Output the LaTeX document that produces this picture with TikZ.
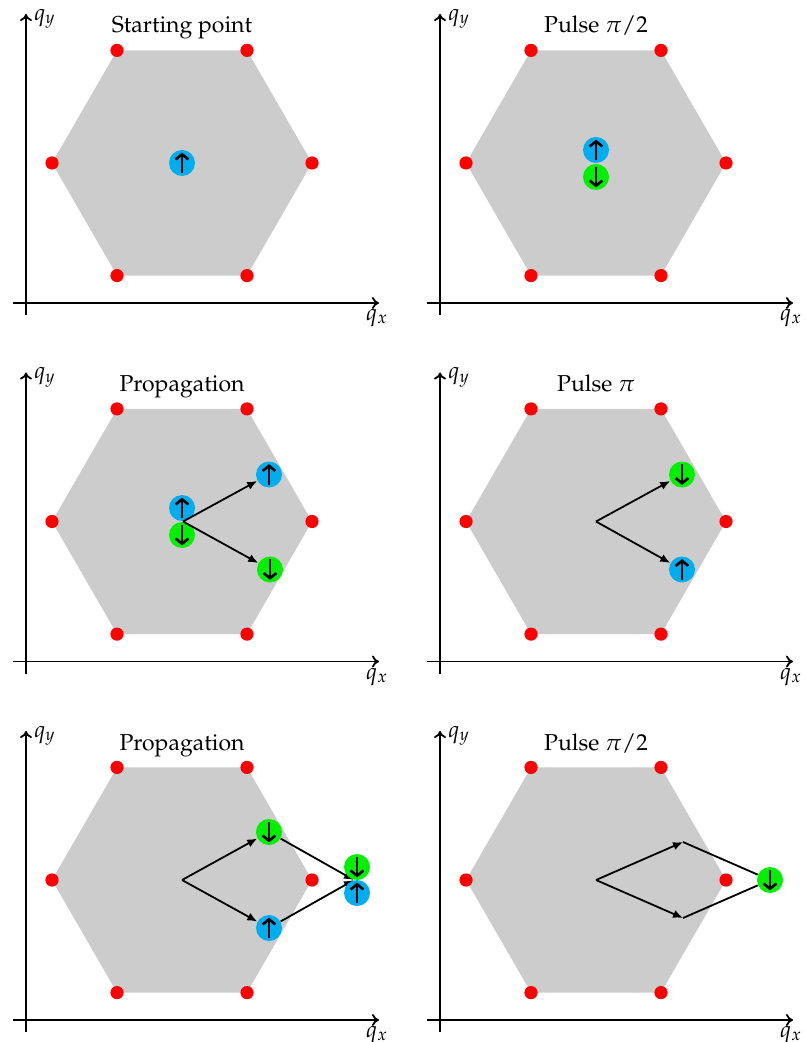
\documentclass[tikz,border=0pt]{standalone}
\usepackage[T1]{fontenc}
\usepackage{mathpazo}
\usetikzlibrary{arrows.meta}
\definecolor{spinblue}{HTML}{00AEEF}
\definecolor{spingreen}{HTML}{00F000}
\definecolor{dotred}{HTML}{FF0000}
\definecolor{hexgray}{HTML}{CCCCCC}
\tikzset{
  axisline/.style={line width=0.9pt, -{To[length=3.5pt,width=6pt]}},
  reddot/.style={circle, fill=dotred, inner sep=0pt, minimum size=6.6pt},
  spinbase/.style={circle, inner sep=0pt, minimum size=13pt},
  spinup/.style={spinbase, fill=spinblue, path picture={\draw[line width=1.3pt,-{Straight Barb[length=2.6pt,width=6.4pt]}] ([yshift=-5.2pt]path picture bounding box.center) -- ([yshift=5.2pt]path picture bounding box.center);}},
  spindown/.style={spinbase, fill=spingreen, path picture={\draw[line width=1.3pt,-{Straight Barb[length=2.6pt,width=6.4pt]}] ([yshift=5.2pt]path picture bounding box.center) -- ([yshift=-5.2pt]path picture bounding box.center);}},
  flow/.style={line width=0.9pt, -{Latex[length=5pt,width=4.2pt]}},
  plainline/.style={line width=0.9pt},
  titletext/.style={font=\fontsize{11.5}{13}\selectfont, anchor=base},
  axlabel/.style={font=\fontsize{11.5}{13}\selectfont, inner sep=0pt}
}
\newcommand\mypanel[3]{%
  \begin{scope}[shift={#3}]
    \fill[hexgray] (52,163) -- (117,50.4) -- (247,50.4) -- (312,163) -- (247,275.6) -- (117,275.6) -- cycle;
    \node[reddot] (#1d1) at (52,163) {};
    \node[reddot] (#1d2) at (117,50.4) {};
    \node[reddot] (#1d3) at (247,50.4) {};
    \node[reddot] (#1d4) at (312,163) {};
    \node[reddot] (#1d5) at (247,275.6) {};
    \node[reddot] (#1d6) at (117,275.6) {};
    \coordinate (#1yb) at (26,315);
    \coordinate (#1yt) at (26,14);
    \coordinate (#1xl) at (13,303);
    \coordinate (#1xr) at (379,303);
    \draw[axisline] (#1yb) -- (#1yt);
    \draw[axisline] (#1xl) -- (#1xr);
    \node[axlabel] (#1qy) at (45,19) {$q_y$};
    \node[axlabel, anchor=north] (#1qx) at (377,309) {$q_x$};
    \node[titletext] (#1t) at (182,33) {#2};
  \end{scope}}
\begin{document}
\begin{tikzpicture}[x=0.5pt,y=-0.5pt]
\useasboundingbox (0,0) rectangle (805,1042);
% row 1
\mypanel{a}{Starting point}{(0,0)}
\node[spinup] (u1) at (182,163) {};
\mypanel{b}{Pulse $\pi/2$}{(414,0)}
\node[spinup] (u2) at (596,150) {};
\node[spindown] (g2) at (596,177) {};
% row 2
\mypanel{c}{Propagation}{(0,358.5)}
\node[spinup] (u3) at (182,508) {};
\node[spindown] (g3) at (182,535) {};
\coordinate (c3) at (183,521.5);
\node[spinup] (u3b) at (269,474.5) {};
\node[spindown] (g3b) at (270,569.5) {};
\draw[flow] (c3) -- (u3b);
\draw[flow] (c3) -- (g3b);
\mypanel{d}{Pulse $\pi$}{(414,358.5)}
\coordinate (c4) at (596,521.5);
\node[spindown] (g4) at (682,474.5) {};
\node[spinup] (u4) at (682,569.5) {};
\draw[flow] (c4) -- (g4);
\draw[flow] (c4) -- (u4);
% row 3
\mypanel{e}{Propagation}{(0,717)}
\coordinate (c5) at (182,880);
\node[spindown] (g5) at (269,832) {};
\node[spinup] (u5) at (269,928) {};
\coordinate (m5) at (354,880);
\draw[flow] (c5) -- (g5);
\draw[flow] (c5) -- (u5);
\draw[flow] (g5) -- (m5);
\draw[flow] (u5) -- (m5);
\node[spindown] (g5b) at (357,867) {};
\node[spinup] (u5b) at (357,893) {};
\mypanel{f}{Pulse $\pi/2$}{(414,717)}
\coordinate (c6) at (596,880);
\coordinate (p6a) at (683,842);
\coordinate (p6b) at (683,918);
\node[spindown] (g6) at (770,880) {};
\draw[flow] (c6) -- (p6a);
\draw[flow] (c6) -- (p6b);
\draw[plainline] (p6a) -- (g6);
\draw[plainline] (p6b) -- (g6);
\end{tikzpicture}
\end{document}
